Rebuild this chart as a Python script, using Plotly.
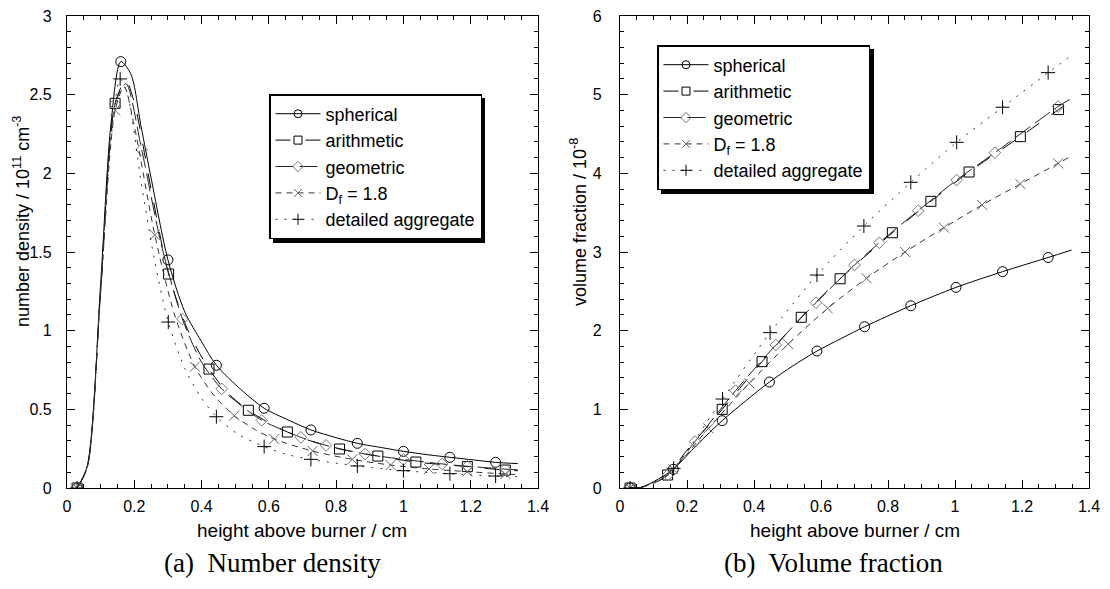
import plotly.graph_objects as go

# ---------------- (a) number density ----------------
nd_sph_x = [0.03, 0.06, 0.10, 0.13, 0.16, 0.19, 0.22, 0.25, 0.30, 0.35, 0.40, 0.444, 0.52, 0.586, 0.66, 0.725, 0.80, 0.863, 0.94, 1.0, 1.07, 1.138, 1.21, 1.274, 1.34]
nd_sph_y = [0, 0.14, 1.30, 2.30, 2.71, 2.63, 2.30, 1.97, 1.45, 1.12, 0.93, 0.78, 0.62, 0.507, 0.43, 0.369, 0.32, 0.284, 0.255, 0.233, 0.212, 0.195, 0.178, 0.163, 0.155]
nd_sph_mx = [0.03, 0.16, 0.30, 0.444, 0.586, 0.725, 0.863, 1.0, 1.138, 1.274]
nd_sph_my = [0, 2.71, 1.45, 0.78, 0.507, 0.369, 0.284, 0.233, 0.195, 0.163]

nd_ari_x = [0.03, 0.06, 0.10, 0.143, 0.175, 0.20, 0.25, 0.302, 0.36, 0.422, 0.48, 0.539, 0.60, 0.655, 0.73, 0.81, 0.924, 1.037, 1.19, 1.303, 1.34]
nd_ari_y = [0, 0.13, 1.25, 2.445, 2.59, 2.45, 1.90, 1.36, 1.00, 0.756, 0.60, 0.494, 0.415, 0.356, 0.295, 0.248, 0.203, 0.165, 0.136, 0.114, 0.11]
nd_ari_mx = [0.03, 0.143, 0.302, 0.422, 0.539, 0.655, 0.81, 0.924, 1.037, 1.19, 1.303]
nd_ari_my = [0, 2.445, 1.36, 0.756, 0.494, 0.356, 0.248, 0.203, 0.165, 0.136, 0.114]

nd_geo_x = [0.03, 0.06, 0.10, 0.143, 0.175, 0.222, 0.28, 0.343, 0.40, 0.46, 0.52, 0.579, 0.64, 0.695, 0.77, 0.886, 1.0, 1.115, 1.19, 1.303, 1.34]
nd_geo_y = [0, 0.13, 1.25, 2.44, 2.57, 2.15, 1.55, 1.074, 0.80, 0.63, 0.52, 0.43, 0.37, 0.322, 0.271, 0.216, 0.182, 0.153, 0.138, 0.12, 0.115]
nd_geo_mx = [0.03, 0.143, 0.222, 0.343, 0.46, 0.579, 0.695, 0.77, 0.886, 1.0, 1.115, 1.19, 1.303]
nd_geo_my = [0, 2.44, 2.15, 1.074, 0.63, 0.43, 0.322, 0.271, 0.216, 0.182, 0.153, 0.138, 0.12]

nd_df_x = [0.03, 0.06, 0.10, 0.143, 0.17, 0.20, 0.261, 0.32, 0.38, 0.44, 0.497, 0.56, 0.616, 0.73, 0.848, 0.962, 1.076, 1.19, 1.303, 1.34]
nd_df_y = [0, 0.13, 1.25, 2.40, 2.55, 2.30, 1.608, 1.10, 0.771, 0.58, 0.46, 0.37, 0.311, 0.235, 0.182, 0.146, 0.121, 0.104, 0.089, 0.085]
nd_df_mx = [0.03, 0.143, 0.261, 0.38, 0.497, 0.616, 0.73, 0.848, 0.962, 1.076, 1.19, 1.303]
nd_df_my = [0, 2.40, 1.608, 0.771, 0.46, 0.311, 0.235, 0.182, 0.146, 0.121, 0.104, 0.089]

nd_det_x = [0.03, 0.06, 0.10, 0.13, 0.158, 0.18, 0.22, 0.26, 0.301, 0.35, 0.40, 0.444, 0.51, 0.586, 0.65, 0.725, 0.863, 1.0, 1.138, 1.274, 1.34]
nd_det_y = [0, 0.13, 1.25, 2.2, 2.60, 2.50, 1.95, 1.45, 1.055, 0.76, 0.57, 0.453, 0.34, 0.263, 0.215, 0.182, 0.14, 0.11, 0.091, 0.076, 0.072]
nd_det_mx = [0.03, 0.158, 0.301, 0.444, 0.586, 0.725, 0.863, 1.0, 1.138, 1.274]
nd_det_my = [0, 2.60, 1.055, 0.453, 0.263, 0.182, 0.14, 0.11, 0.091, 0.076]

# ---------------- (b) volume fraction ----------------
vf_sph_x = [0.03, 0.06, 0.10, 0.159, 0.23, 0.305, 0.376, 0.446, 0.517, 0.588, 0.66, 0.73, 0.868, 1.003, 1.142, 1.278, 1.348]
vf_sph_y = [0, 0.005, 0.08, 0.238, 0.55, 0.856, 1.11, 1.347, 1.555, 1.741, 1.90, 2.05, 2.317, 2.55, 2.75, 2.93, 3.025]
vf_sph_mx = [0.03, 0.159, 0.305, 0.446, 0.588, 0.73, 0.868, 1.003, 1.142, 1.278]
vf_sph_my = [0, 0.238, 0.856, 1.347, 1.741, 2.05, 2.317, 2.55, 2.75, 2.93]

vf_ari_x = [0.03, 0.06, 0.10, 0.142, 0.20, 0.305, 0.424, 0.541, 0.657, 0.813, 0.928, 1.042, 1.195, 1.309, 1.351]
vf_ari_y = [0, 0.005, 0.06, 0.165, 0.48, 1.0, 1.606, 2.17, 2.66, 3.245, 3.644, 4.017, 4.466, 4.81, 4.93]
vf_ari_mx = [0.03, 0.142, 0.305, 0.424, 0.541, 0.657, 0.813, 0.928, 1.042, 1.195, 1.309]
vf_ari_my = [0, 0.165, 1.0, 1.606, 2.17, 2.66, 3.245, 3.644, 4.017, 4.466, 4.81]

vf_geo_x = [0.03, 0.06, 0.10, 0.143, 0.224, 0.345, 0.465, 0.585, 0.70, 0.774, 0.89, 1.005, 1.119, 1.308, 1.351]
vf_geo_y = [0, 0.005, 0.06, 0.165, 0.59, 1.237, 1.818, 2.356, 2.835, 3.118, 3.525, 3.915, 4.262, 4.85, 4.96]
vf_geo_mx = [0.03, 0.143, 0.224, 0.345, 0.465, 0.585, 0.70, 0.774, 0.89, 1.005, 1.119, 1.308]
vf_geo_my = [0, 0.165, 0.59, 1.237, 1.818, 2.356, 2.835, 3.118, 3.525, 3.915, 4.262, 4.85]

vf_df_x = [0.03, 0.06, 0.10, 0.159, 0.264, 0.386, 0.502, 0.62, 0.736, 0.851, 0.967, 1.081, 1.195, 1.308, 1.348]
vf_df_y = [0, 0.005, 0.07, 0.24, 0.758, 1.331, 1.83, 2.284, 2.666, 3.0, 3.309, 3.598, 3.865, 4.127, 4.22]
vf_df_mx = [0.03, 0.159, 0.264, 0.386, 0.502, 0.62, 0.736, 0.851, 0.967, 1.081, 1.195, 1.308]
vf_df_my = [0, 0.24, 0.758, 1.331, 1.83, 2.284, 2.666, 3.0, 3.309, 3.598, 3.865, 4.127]

vf_det_x = [0.03, 0.06, 0.10, 0.16, 0.306, 0.448, 0.588, 0.728, 0.868, 1.005, 1.142, 1.278, 1.345]
vf_det_y = [0, 0.005, 0.07, 0.25, 1.131, 1.975, 2.707, 3.33, 3.886, 4.394, 4.84, 5.28, 5.49]
vf_det_mx = [0.03, 0.16, 0.306, 0.448, 0.588, 0.728, 0.868, 1.005, 1.142, 1.278]
vf_det_my = [0, 0.25, 1.131, 1.975, 2.707, 3.33, 3.886, 4.394, 4.84, 5.28]

series_names = ["spherical", "arithmetic", "geometric", "D<sub>f</sub> = 1.8", "detailed aggregate"]
x_ticks = [0, 0.2, 0.4, 0.6, 0.8, 1, 1.2, 1.4]

FONT = "Arial, Liberation Sans, sans-serif"
SERIF = "Times New Roman, Liberation Serif, serif"
styles = [
    dict(dash="solid", lc="#000000", sym="circle-open", mc="#000000", ms=10),
    dict(dash="longdash", lc="#000000", sym="square-open", mc="#000000", ms=10),
    dict(dash="18px,6px", lc="#222222", sym="diamond-open", mc="#777777", ms=9),
    dict(dash="6px,5px", lc="#333333", sym="x-thin-open", mc="#666666", ms=10),
    dict(dash="2px,7px", lc="#333333", sym="cross-thin-open", mc="#000000", ms=10),
]

nd_sets = [(nd_sph_x, nd_sph_y, nd_sph_mx, nd_sph_my),
           (nd_ari_x, nd_ari_y, nd_ari_mx, nd_ari_my),
           (nd_geo_x, nd_geo_y, nd_geo_mx, nd_geo_my),
           (nd_df_x, nd_df_y, nd_df_mx, nd_df_my),
           (nd_det_x, nd_det_y, nd_det_mx, nd_det_my)]
vf_sets = [(vf_sph_x, vf_sph_y, vf_sph_mx, vf_sph_my),
           (vf_ari_x, vf_ari_y, vf_ari_mx, vf_ari_my),
           (vf_geo_x, vf_geo_y, vf_geo_mx, vf_geo_my),
           (vf_df_x, vf_df_y, vf_df_mx, vf_df_my),
           (vf_det_x, vf_det_y, vf_det_mx, vf_det_my)]

fig = go.Figure()

for sets, xa, ya, leg in [(nd_sets, "x", "y", "legend"), (vf_sets, "x2", "y2", "legend2")]:
    for name, st, (lx, ly, mx, my) in zip(series_names, styles, sets):
        fig.add_trace(go.Scatter(x=lx, y=ly, mode="lines", xaxis=xa, yaxis=ya,
                                 line=dict(color=st["lc"], width=1, dash=st["dash"], shape="spline", smoothing=0.8),
                                 showlegend=False, hoverinfo="skip"))
        fig.add_trace(go.Scatter(x=mx, y=my, mode="markers", xaxis=xa, yaxis=ya,
                                 marker=dict(symbol=st["sym"], size=st["ms"], color=st["mc"],
                                             line=dict(width=1, color=st["mc"])),
                                 showlegend=False, hoverinfo="skip"))
        fig.add_trace(go.Scatter(x=[None], y=[None], mode="lines+markers", xaxis=xa, yaxis=ya,
                                 name=name, legend=leg,
                                 line=dict(color=st["lc"], width=1, dash=st["dash"]),
                                 marker=dict(symbol=st["sym"], size=8, color=st["mc"],
                                             line=dict(width=1, color=st["mc"]))))

axis_common = dict(showline=True, linecolor="black", linewidth=1.2, mirror="allticks",
                   ticks="inside", ticklen=8, tickwidth=1, tickcolor="black",
                   showgrid=False, zeroline=False, automargin=False,
                   tickfont=dict(family=FONT, size=16, color="black"))

fig.update_layout(
    width=1110, height=589,
    paper_bgcolor="white", plot_bgcolor="white",
    margin=dict(l=0, r=0, t=0, b=0),
    font=dict(family=FONT, color="black"),
    xaxis=dict(domain=[67/1110, 538/1110], range=[0, 1.4], tickvals=x_ticks, anchor="y",
               ticklabelstandoff=4,
               minor=dict(dtick=0.05, ticklen=4, ticks="inside", tickcolor="black"), **axis_common),
    yaxis=dict(domain=[(589-488)/589, (589-16)/589], range=[0, 3], dtick=0.5, anchor="x",
               ticklabelstandoff=11,
               minor=dict(dtick=0.1, ticklen=4, ticks="inside", tickcolor="black"), **axis_common),
    xaxis2=dict(domain=[620/1110, 1089/1110], range=[0, 1.4], tickvals=x_ticks, anchor="y2",
                ticklabelstandoff=4,
                minor=dict(dtick=0.05, ticklen=4, ticks="inside", tickcolor="black"), **axis_common),
    yaxis2=dict(domain=[(589-488)/589, (589-16)/589], range=[0, 6], dtick=1, anchor="x2",
                ticklabelstandoff=14,
                minor=dict(dtick=0.2, ticklen=4, ticks="inside", tickcolor="black"), **axis_common),
    legend=dict(x=269/1110, y=1-94/589, xanchor="left", yanchor="top",
                bgcolor="white", bordercolor="black", borderwidth=1.5, itemwidth=45,
                font=dict(family=FONT, size=18, color="black"), tracegroupgap=0),
    legend2=dict(x=657/1110, y=1-45/589, xanchor="left", yanchor="top",
                 bgcolor="white", bordercolor="black", borderwidth=1.5, itemwidth=45,
                 font=dict(family=FONT, size=18, color="black"), tracegroupgap=0),
    showlegend=True,
)

ann = []
ann.append(dict(text="number density / 10<sup>11</sup> cm<sup>-3</sup>", x=21/1110, y=1-222/589,
                textangle=-90, font=dict(size=18)))
ann.append(dict(text="volume fraction / 10<sup>-8</sup>", x=578/1110, y=1-222/589,
                textangle=-90, font=dict(size=18)))
ann.append(dict(text="height above burner / cm", x=302/1110, y=1-530/589, font=dict(size=19)))
ann.append(dict(text="height above burner / cm", x=855/1110, y=1-530/589, font=dict(size=19)))
ann.append(dict(text="(a)  Number density", x=272/1110, y=1-563/589,
                font=dict(size=27, family=SERIF)))
ann.append(dict(text="(b)  Volume fraction", x=833/1110, y=1-563/589,
                font=dict(size=27, family=SERIF)))
for a in ann:
    a.update(xref="paper", yref="paper", showarrow=False, xanchor="center", yanchor="middle")
    a["font"].setdefault("family", FONT)
    a["font"]["color"] = "black"
fig.update_layout(annotations=ann)

# legend drop shadows (offset 4 px right and down)
for (bx0, by0, bx1, by1) in [(269, 94, 481, 239), (657, 45, 870, 190)]:
    fig.add_shape(type="rect", xref="paper", yref="paper", layer="above",
                  x0=(bx0 + 4)/1110, x1=(bx1 + 4)/1110,
                  y0=1-(by1 + 4)/589, y1=1-(by0 + 4)/589,
                  fillcolor="black", line=dict(width=0))

fig.write_html("out.html", config={"displayModeBar": False},
               post_script="document.body.style.margin='0px';document.body.style.overflow='hidden';")
